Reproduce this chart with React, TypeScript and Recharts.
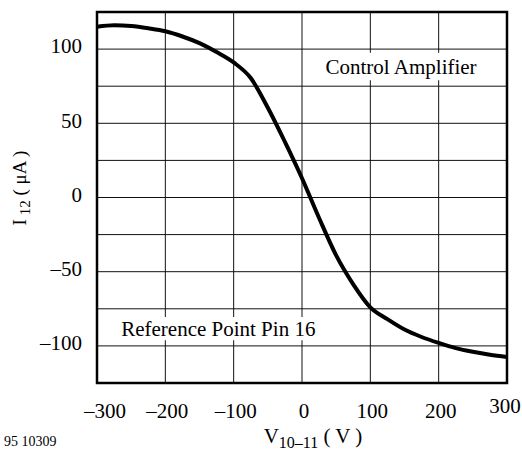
import React from "react";
import {
  LineChart,
  Line,
  XAxis,
  YAxis,
  CartesianGrid,
  ReferenceArea,
  Label,
} from "recharts";

// V10-11 (V) vs I12 (uA)
const voltage = [
  -300, -275, -250, -225, -200, -175, -150, -125, -100, -75, -50, -25, 0,
  25, 50, 75, 100, 125, 150, 175, 200, 225, 250, 275, 300,
];
const current = [
  115, 116, 115.5, 114, 112, 108.5, 104, 98, 91, 80.5, 60.5, 37.5, 13,
  -13.8, -39, -58.5, -74, -82, -89, -94, -98, -101.5, -104, -106, -107.5,
];

const xTicks = [-300, -200, -100, 0, 100, 200, 300];
const yTicks = [-125, -100, -75, -50, -25, 0, 25, 50, 75, 100, 125];
const yLabeled = [-100, -50, 0, 50, 100];

const data = voltage.map((v, i) => ({ v, i: current[i] }));

const font = "Liberation Serif";

const fmt = (n: number) => (n < 0 ? "\u2013" + Math.abs(n) : String(n));

function XTick(props: any) {
  const { x, y, payload } = props;
  let dx = 2;
  let dy = 0;
  if (payload.value === -300) dx = 8;
  if (payload.value === 300) {
    dx = -2;
    dy = -5;
  }
  return (
    <text
      x={x + dx}
      y={y + dy}
      dy="0.71em"
      textAnchor="middle"
      fontFamily={font}
      fontSize={21}
      fill="#000"
    >
      {fmt(payload.value)}
    </text>
  );
}

function YTick(props: any) {
  const { x, y, payload } = props;
  if (!yLabeled.includes(payload.value)) return null;
  return (
    <text
      x={x}
      y={y - 3}
      dy="0.35em"
      textAnchor="end"
      fontFamily={font}
      fontSize={21}
      fill="#000"
    >
      {fmt(payload.value)}
    </text>
  );
}

export default function App() {
  return (
    <div
      style={{
        position: "absolute",
        left: 0,
        top: 0,
        width: 522,
        height: 457,
        background: "#fff",
      }}
    >
      <LineChart
        width={522}
        height={457}
        data={data}
        margin={{ top: 12, right: 15, bottom: 0, left: 0 }}
      >
        <CartesianGrid
          stroke="#111"
          strokeWidth={1}
          horizontalValues={yTicks}
          verticalValues={xTicks}
        />
        <XAxis
          dataKey="v"
          type="number"
          domain={[-300, 300]}
          ticks={xTicks}
          height={74}
          axisLine={false}
          tickLine={false}
          tickMargin={14}
          tick={<XTick />}
          interval={0}
        >
          <Label
            content={() => (
              <text x={313} y={443} textAnchor="middle" fontFamily={font} fontSize={21} fill="#000">
                V
                <tspan fontSize={16} dy={5}>10–11</tspan>
                <tspan dy={-5}> ( V )</tspan>
              </text>
            )}
          />
        </XAxis>
        <YAxis
          type="number"
          domain={[-125, 125]}
          ticks={yTicks}
          width={97}
          axisLine={false}
          tickLine={false}
          tickMargin={9}
          tick={<YTick />}
          interval={0}
        >
          <Label
            content={() => (
              <text
                x={0}
                y={0}
                transform="translate(26,188) rotate(-90)"
                textAnchor="middle"
                fontFamily={font}
                fontSize={19}
                fill="#000"
              >
                I
                <tspan fontSize={15} dy={4}> 12</tspan>
                <tspan dy={-4}> ( μA )</tspan>
              </text>
            )}
          />
        </YAxis>
        <ReferenceArea
          x1={28}
          x2={262}
          y1={79}
          y2={97.5}
          fill="#fff"
          fillOpacity={1}
          stroke="none"
        >
          <Label
            value="Control Amplifier"
            position="center"
            fontFamily={font}
            fontSize={21}
            fill="#000"
          />
        </ReferenceArea>
        <ReferenceArea
          x1={-272}
          x2={27}
          y1={-96.2}
          y2={-80.5}
          fill="#fff"
          fillOpacity={1}
          stroke="none"
        >
          <Label
            value="Reference Point Pin 16"
            position="center"
            fontFamily={font}
            fontSize={21}
            fill="#000"
          />
        </ReferenceArea>
        <Line
          type="monotone"
          dataKey="i"
          stroke="#000"
          strokeWidth={4}
          dot={false}
          isAnimationActive={false}
        />
        <ReferenceArea
          x1={-300}
          x2={300}
          y1={-125}
          y2={125}
          fill="none"
          stroke="#000"
          strokeWidth={2.5}
        />
      </LineChart>
      <div
        style={{
          position: "absolute",
          left: 4,
          top: 434,
          fontFamily: font,
          fontSize: 14,
          color: "#000",
        }}
      >
        95 10309
      </div>
    </div>
  );
}
